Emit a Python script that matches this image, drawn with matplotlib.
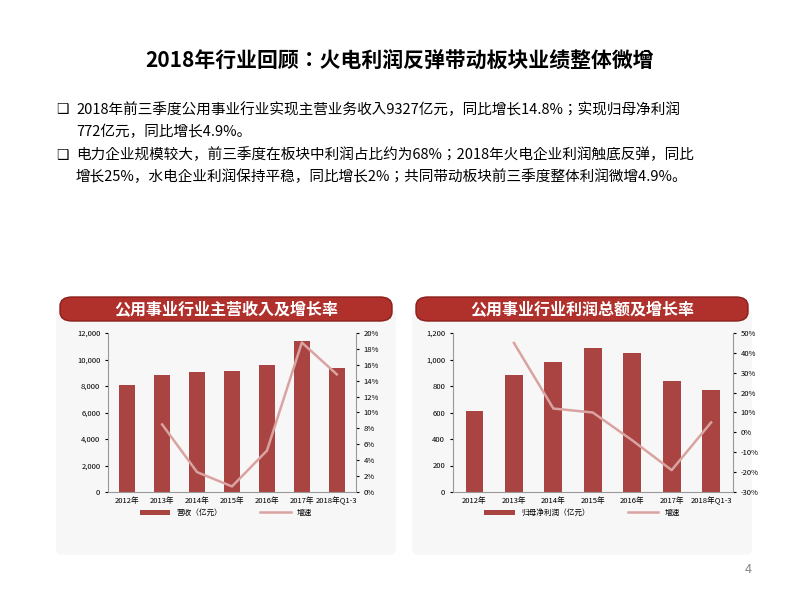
import matplotlib
matplotlib.use("Agg")
import matplotlib.pyplot as plt
from matplotlib.patches import FancyBboxPatch
from matplotlib.ticker import FuncFormatter
from matplotlib import font_manager

names = sorted({f.name for f in font_manager.fontManager.ttflist if "CJK" in f.name})
plt.rcParams["font.family"] = ["sans-serif"]
plt.rcParams["font.sans-serif"] = names + ["DejaVu Sans"]
plt.rcParams["axes.unicode_minus"] = False

years = ["2012年", "2013年", "2014年", "2015年", "2016年", "2017年", "2018年Q1-3"]
revenue = [8100, 8800, 9050, 9120, 9600, 11400, 9327]
rev_growth = [None, 8.5, 2.5, 0.7, 5.2, 18.8, 14.8]
profit = [610, 880, 980, 1090, 1050, 840, 772]
profit_growth = [None, 45, 12, 10, -4, -19, 5]

title = "2018年行业回顾：火电利润反弹带动板块业绩整体微增"
bullets = [
    ("2018年前三季度公用事业行业实现主营业务收入9327亿元，同比增长14.8%；实现归母净利润", "772亿元，同比增长4.9%。"),
    ("电力企业规模较大，前三季度在板块中利润占比约为68%；2018年火电企业利润触底反弹，同比", "增长25%，水电企业利润保持平稳，同比增长2%；共同带动板块前三季度整体利润微增4.9%。"),
]

bar_c = "#A94442"
line_c = "#D9A3A1"

fig = plt.figure(figsize=(8, 6), dpi=100)
fig.text(0.5, 0.9, title, ha="center", va="center", fontsize=15, fontweight="bold")
ys = [0.818, 0.742]
for (l1, l2), y in zip(bullets, ys):
    fig.text(0.07, y, "❑", fontsize=10, va="center", family="DejaVu Sans")
    fig.text(0.095, y, l1, fontsize=10.5, va="center")
    fig.text(0.095, y - 0.037, l2, fontsize=10.5, va="center")

def panel(x0, w, rect, head, bars, growth, ylim, yticks, y2lim, y2ticks, barlabel):
    bg = FancyBboxPatch((x0, 0.075), w, 0.41, boxstyle="round,pad=0,rounding_size=0.01",
                        transform=fig.transFigure, fc="#F7F7F7", ec="none", zorder=-2)
    fig.patches.append(bg)
    hb = FancyBboxPatch((x0 + 0.005, 0.465), w - 0.01, 0.04, boxstyle="round,pad=0,rounding_size=0.015",
                        transform=fig.transFigure, fc="#B0302C", ec="#8A1F1C", zorder=-1)
    fig.patches.append(hb)
    fig.text(x0 + w / 2, 0.485, head, ha="center", va="center", color="white", fontsize=11.5, fontweight="bold")
    ax = fig.add_axes(rect)
    ax.set_zorder(2)
    ax.set_facecolor("none")
    x = range(len(years))
    ax.bar(x, bars, width=0.45, color=bar_c, label=barlabel)
    ax.set_ylim(*ylim)
    ax.set_yticks(yticks)
    ax.yaxis.set_major_formatter(FuncFormatter(lambda v, p: f"{int(v):,}"))
    ax.set_xticks(list(x))
    ax.set_xticklabels(years, fontsize=5.5)
    ax.tick_params(axis="y", labelsize=5.5, length=2)
    ax.tick_params(axis="x", length=0)
    for s in ["top", "right"]:
        ax.spines[s].set_visible(False)
    for s in ["left", "bottom"]:
        ax.spines[s].set_color("#999999")
    ax.set_xlim(-0.55, len(years) - 0.45)
    ax2 = ax.twinx()
    ax2.set_zorder(3)
    gx = [i for i, g in enumerate(growth) if g is not None]
    gy = [g for g in growth if g is not None]
    ax2.plot(gx, gy, color=line_c, lw=1.8, label="增速")
    ax2.set_ylim(*y2lim)
    ax2.set_yticks(y2ticks)
    ax2.yaxis.set_major_formatter(FuncFormatter(lambda v, p: f"{int(v)}%"))
    ax2.tick_params(axis="y", labelsize=5.5, length=2)
    for s in ["top", "left", "bottom"]:
        ax2.spines[s].set_visible(False)
    ax2.spines["right"].set_color("#999999")
    h1, l1 = ax.get_legend_handles_labels()
    h2, l2 = ax2.get_legend_handles_labels()
    fig.legend(h1 + h2, l1 + l2, loc="center", bbox_to_anchor=(x0 + w / 2, 0.145), ncol=2,
               fontsize=5.5, frameon=False, handlelength=4, columnspacing=5)

panel(0.07, 0.425, [0.135, 0.18, 0.31, 0.265], "公用事业行业主营收入及增长率", revenue, rev_growth, (0, 12000),
      range(0, 12001, 2000), (0, 20), range(0, 21, 2), "营收（亿元）")
panel(0.515, 0.425, [0.566, 0.18, 0.35, 0.265], "公用事业行业利润总额及增长率", profit, profit_growth, (0, 1200),
      range(0, 1201, 200), (-30, 50), range(-30, 51, 10), "归母净利润（亿元）")

fig.text(0.935, 0.045, "4", fontsize=9, color="#888888", ha="center")
fig.savefig("out.png", dpi=100, facecolor="white")
